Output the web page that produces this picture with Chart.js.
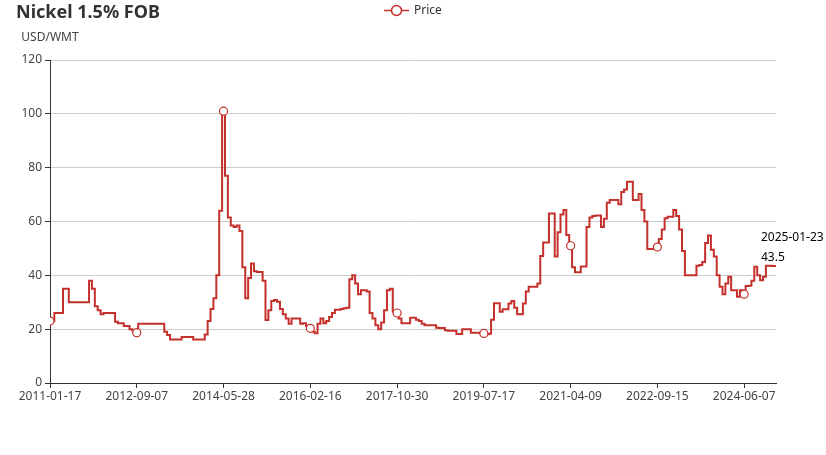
<!DOCTYPE html>
<html>
<head>
<meta charset="utf-8">
<title>Nickel 1.5% FOB</title>
<script src="https://cdn.jsdelivr.net/npm/chart.js@4.4.1/dist/chart.umd.min.js"></script>
<style>
    body { margin: 0; background: #ffffff; }
    #wrap { width: 826px; height: 455px; }
</style>
</head>
<body>
<div id="wrap"><canvas id="nickel-chart" width="826" height="455"></canvas></div>
<script>
const chartTitle = "Nickel 1.5% FOB";
const seriesName = "Price";
const unitName = "USD/WMT";
const tickLabels = ["2011-01-17", "2012-09-07", "2014-05-28", "2016-02-16", "2017-10-30",
    "2019-07-17", "2021-04-09", "2022-09-15", "2024-06-07"];
const lastDate = "2025-01-23";
const yTicks = [0, 20, 40, 60, 80, 100, 120];

const priceValues = [
    23, 23, 26, 26, 26, 35, 35, 30, 30, 30,
    30, 30, 30, 30, 38, 35, 28.5, 27, 25.5, 26,
    26, 26, 26, 22.8, 22.2, 22.2, 21.2, 21.2, 20, 19.5,
    18.7, 22, 22, 22, 22, 22, 22, 22, 22, 22,
    19, 17.8, 16.2, 16.2, 16.2, 16.2, 17.1, 17.1, 17.1, 17.1,
    16.2, 16.2, 16.2, 16.2, 18, 23, 27.5, 31.5, 40, 64,
    101, 77, 61.5, 58.5, 58, 58.5, 56.5, 43, 31.5, 39,
    44.4, 41.5, 41.2, 41.2, 38, 23.4, 27, 30.5, 30.8, 30.2,
    27.5, 25.5, 24, 22, 24, 24, 24, 22, 22.2, 21.2,
    20.3, 19, 18.5, 22, 24, 22.2, 23, 24.5, 26, 27.2,
    27.2, 27.5, 27.8, 28, 38.5, 40, 37, 33, 34.5, 34.5,
    34, 26, 24, 21.5, 20, 22.5, 27, 34.5, 35, 26.5,
    26, 24, 22.2, 22.2, 22.2, 24.2, 24.2, 23.5, 23, 22,
    21.5, 21.5, 21.5, 21.5, 20.5, 20.4, 20.4, 19.6, 19.4, 19.4,
    19.4, 18.2, 18.2, 20, 20, 20, 18.7, 18.7, 18.7, 18.5,
    18.4, 18.1, 18.3, 23.5, 29.6, 29.6, 26.5, 27.4, 27.4, 29.5,
    30.5, 28, 25.5, 25.5, 29.5, 34, 35.8, 35.8, 35.8, 37,
    47.2, 52.2, 52.2, 63, 63, 47, 56, 62.6, 64.3, 55,
    51, 43, 41.1, 41.1, 43.3, 43.3, 58, 61.5, 62, 62.2,
    62.2, 58, 61, 67, 68, 68, 68, 66.4, 71, 71.9,
    74.8, 74.8, 68, 68, 70.2, 64.3, 60, 49.8, 49.8, 49.8,
    50.5, 53.5, 57, 61.2, 61.8, 61.8, 64.3, 62, 57, 49,
    40, 40, 40, 40, 43.6, 43.8, 45, 52, 54.8, 49.5,
    47, 40, 35.8, 33, 37, 39.5, 34.5, 34.5, 32, 34.5,
    33, 36, 36.1, 38, 43.2, 40, 38.2, 39.5, 43.6, 43.6,
    43.5, 43.5
];

// one tick label every this many data points, markers sit on the same points
const labelEvery = 30;
const lineColor = "#c4302b";
const fontFamily = "'Noto Sans', 'DejaVu Sans', sans-serif";

const points = priceValues.map((v, i) => ({ x: i, y: v }));

// title, legend, axis name and the last value note, drawn like echarts does
const overlayPlugin = {
    id: "overlay",
    afterDraw(chart) {
        const ctx = chart.ctx;
        const area = chart.chartArea;
        ctx.save();

        ctx.fillStyle = "#333";
        ctx.textBaseline = "middle";
        ctx.textAlign = "left";
        ctx.font = "bold 18px " + fontFamily;
        ctx.fillText(chartTitle, 16, 13);

        // legend: line with hollow circle, then name
        ctx.strokeStyle = lineColor;
        ctx.lineWidth = 1.5;
        ctx.beginPath();
        ctx.moveTo(384, 10.5);
        ctx.lineTo(409, 10.5);
        ctx.stroke();
        ctx.beginPath();
        ctx.arc(396.5, 10.5, 5, 0, Math.PI * 2);
        ctx.fillStyle = "#fff";
        ctx.fill();
        ctx.stroke();
        ctx.fillStyle = "#333";
        ctx.font = "12px " + fontFamily;
        ctx.fillText(seriesName, 414, 10.5);

        ctx.textAlign = "center";
        ctx.fillStyle = "#444";
        ctx.fillText(unitName, area.left, area.top - 22);

        const lastIndex = priceValues.length - 1;
        const px = chart.scales.x.getPixelForValue(lastIndex);
        const py = chart.scales.y.getPixelForValue(priceValues[lastIndex]);
        ctx.textAlign = "left";
        ctx.fillStyle = "#000";
        ctx.fillText(lastDate, px - 15, py - 28);
        ctx.fillText(String(priceValues[lastIndex]), px - 15, py - 8);

        ctx.restore();
    }
};

new Chart(document.getElementById("nickel-chart"), {
    type: "line",
    data: {
        datasets: [{
            label: seriesName,
            data: points,
            borderColor: lineColor,
            backgroundColor: "#fff",
            borderWidth: 2,
            stepped: "middle",
            pointRadius: (c) => (c.dataIndex % labelEvery === 0 ? 4 : 0),
            pointBorderWidth: 1.2,
            pointBackgroundColor: "#fff",
            pointBorderColor: lineColor,
            pointHoverRadius: 0
        }]
    },
    options: {
        responsive: false,
        animation: false,
        layout: { padding: { top: 60, right: 50, bottom: 0, left: 0 } },
        plugins: {
            legend: { display: false },
            title: { display: false },
            tooltip: { enabled: false }
        },
        scales: {
            x: {
                type: "linear",
                min: 0,
                max: priceValues.length - 1,
                afterFit: (scale) => { scale.height = 72; },
                border: { display: true, color: "#333", width: 1 },
                grid: { drawOnChartArea: false, drawTicks: true, tickLength: 5, tickColor: "#333" },
                ticks: {
                    stepSize: labelEvery,
                    includeBounds: false,
                    autoSkip: false,
                    maxRotation: 0,
                    padding: 1,
                    color: "#444",
                    font: { family: fontFamily, size: 12 },
                    callback: (v) => (v % labelEvery === 0 ? tickLabels[v / labelEvery] : "")
                }
            },
            y: {
                min: yTicks[0],
                max: yTicks[yTicks.length - 1],
                afterFit: (scale) => { scale.width = 50; },
                border: { display: true, color: "#333", width: 1 },
                grid: { color: "#ccc", lineWidth: 1, tickLength: 5, tickColor: "#333" },
                ticks: {
                    stepSize: yTicks[1] - yTicks[0],
                    padding: 3,
                    color: "#444",
                    font: { family: fontFamily, size: 12 }
                }
            }
        }
    },
    plugins: [overlayPlugin]
});
</script>
</body>
</html>
